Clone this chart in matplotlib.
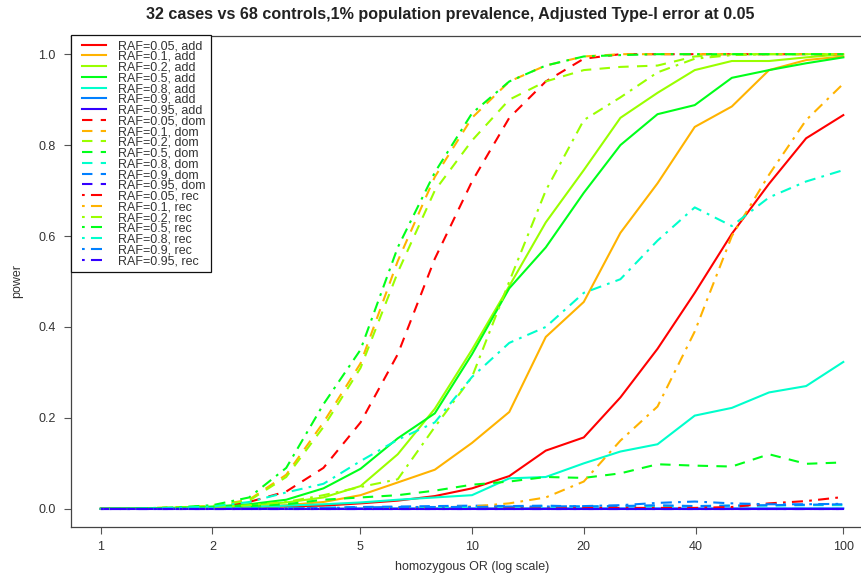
import matplotlib
matplotlib.use("Agg")
import matplotlib.pyplot as plt
from matplotlib.lines import Line2D
from matplotlib.legend_handler import HandlerLine2D

plt.rcParams['font.family'] = ['Liberation Sans', 'DejaVu Sans']

# homozygous odds ratios (0.1-decade grid from 1 to 100)
odds_ratio = [1.0, 1.26, 1.58, 2.0, 2.51, 3.16, 3.98, 5.01, 6.31, 7.94, 10.0,
              12.6, 15.8, 20.0, 25.1, 31.6, 39.8, 50.1, 63.1, 79.4, 100.0]

raf = ["0.05", "0.1", "0.2", "0.5", "0.8", "0.9", "0.95"]
models = ["add", "dom", "rec"]

# power, additive model
add_005 = [0, 0, 0.001, 0.002, 0.003, 0.005, 0.007, 0.012, 0.018, 0.028, 0.045,
           0.072, 0.128, 0.157, 0.245, 0.352, 0.475, 0.605, 0.715, 0.815, 0.866]
add_01 = [0, 0.001, 0.002, 0.003, 0.004, 0.008, 0.015, 0.03, 0.058, 0.086, 0.145,
          0.213, 0.378, 0.455, 0.607, 0.716, 0.84, 0.885, 0.965, 0.987, 0.995]
add_02 = [0, 0.001, 0.002, 0.004, 0.008, 0.014, 0.025, 0.05, 0.12, 0.22, 0.35,
          0.49, 0.63, 0.745, 0.86, 0.915, 0.965, 0.985, 0.985, 0.993, 1.0]
add_05 = [0, 0.001, 0.002, 0.005, 0.01, 0.02, 0.045, 0.088, 0.155, 0.21, 0.34,
          0.485, 0.575, 0.695, 0.80, 0.868, 0.888, 0.948, 0.965, 0.98, 0.993]
add_08 = [0, 0, 0.001, 0.002, 0.004, 0.007, 0.01, 0.014, 0.02, 0.025, 0.03,
          0.067, 0.07, 0.10, 0.126, 0.142, 0.205, 0.222, 0.256, 0.27, 0.323]
add_09 = [0, 0, 0, 0, 0, 0, 0, 0.001, 0.001, 0.001, 0.001,
          0.001, 0.001, 0.001, 0.001, 0.001, 0.001, 0.001, 0.001, 0.001, 0.001]
add_095 = [0] * 21

# power, dominant model
dom_005 = [0, 0.001, 0.002, 0.005, 0.015, 0.038, 0.09, 0.19, 0.34, 0.55, 0.72,
           0.86, 0.94, 0.99, 1.0, 1.0, 1.0, 1.0, 1.0, 1.0, 1.0]
dom_01 = [0, 0.001, 0.003, 0.006, 0.02, 0.075, 0.19, 0.32, 0.545, 0.73, 0.86,
          0.94, 0.975, 0.995, 1.0, 1.0, 1.0, 1.0, 1.0, 1.0, 1.0]
dom_02 = [0, 0.001, 0.003, 0.006, 0.018, 0.07, 0.18, 0.31, 0.52, 0.70, 0.81,
          0.90, 0.94, 0.965, 0.972, 0.975, 0.995, 1.0, 1.0, 1.0, 1.0]
dom_05 = [0, 0.001, 0.002, 0.004, 0.006, 0.01, 0.02, 0.025, 0.03, 0.04, 0.053,
          0.06, 0.07, 0.068, 0.078, 0.098, 0.095, 0.093, 0.12, 0.099, 0.102]
dom_08 = [0, 0, 0, 0.001, 0.001, 0.002, 0.002, 0.003, 0.003, 0.004, 0.004,
          0.005, 0.005, 0.005, 0.006, 0.006, 0.006, 0.007, 0.007, 0.008, 0.008]
dom_09 = [0, 0, 0, 0, 0.001, 0.001, 0.002, 0.004, 0.005, 0.006, 0.007,
          0.006, 0.007, 0.005, 0.006, 0.008, 0.006, 0.007, 0.008, 0.009, 0.01]
dom_095 = [0] * 21

# power, recessive model
rec_005 = [0, 0, 0, 0, 0, 0.001, 0.001, 0.002, 0.002, 0.003, 0.003,
           0.003, 0.003, 0.003, 0.002, 0.002, 0.002, 0.004, 0.012, 0.017, 0.026]
rec_01 = [0, 0, 0, 0, 0, 0.001, 0.001, 0.002, 0.002, 0.003, 0.005,
          0.012, 0.025, 0.06, 0.15, 0.225, 0.39, 0.60, 0.735, 0.855, 0.935]
rec_02 = [0, 0, 0.001, 0.003, 0.008, 0.015, 0.03, 0.048, 0.065, 0.18, 0.29,
          0.50, 0.70, 0.855, 0.905, 0.96, 0.99, 0.998, 1.0, 1.0, 1.0]
rec_05 = [0, 0.001, 0.003, 0.008, 0.025, 0.09, 0.23, 0.35, 0.575, 0.74, 0.87,
          0.94, 0.975, 0.995, 0.998, 1.0, 1.0, 1.0, 1.0, 1.0, 1.0]
rec_08 = [0, 0, 0.002, 0.005, 0.015, 0.036, 0.055, 0.105, 0.152, 0.19, 0.29,
          0.365, 0.40, 0.475, 0.505, 0.59, 0.663, 0.622, 0.685, 0.72, 0.745]
rec_09 = [0, 0, 0, 0, 0, 0.001, 0.002, 0.003, 0.004, 0.004, 0.004,
          0.005, 0.005, 0.006, 0.008, 0.013, 0.016, 0.012, 0.01, 0.01, 0.011]
rec_095 = [0] * 21

series = {
    "add": [add_005, add_01, add_02, add_05, add_08, add_09, add_095],
    "dom": [dom_005, dom_01, dom_02, dom_05, dom_08, dom_09, dom_095],
    "rec": [rec_005, rec_01, rec_02, rec_05, rec_08, rec_09, rec_095],
}

colors = ["#FF0000", "#FFB300", "#99FF00", "#00FF1A", "#00FFCC", "#0080FF", "#3300FF"]
styles = {"add": "-", "dom": (0, (5, 4)), "rec": (0, (1.3, 3, 5.3, 3))}

fig = plt.figure(figsize=(8.62, 5.75), dpi=100)
ax = fig.add_axes([71 / 862, 48 / 575, (873 - 71) / 862, 491 / 575])

for m in models:
    for r, vals, c in zip(raf, series[m], colors):
        ax.plot(odds_ratio, vals, color=c, linestyle=styles[m], linewidth=1.5,
                label=f"RAF={r}, {m}")

ax.set_xscale("log")
ax.set_xlim(10 ** -0.08, 10 ** 2.08)
ax.set_ylim(-0.04, 1.04)
xt = [1, 2, 5, 10, 20, 40, 100]
ax.set_xticks(xt)
ax.set_xticklabels([str(t) for t in xt])
ax.xaxis.set_minor_locator(matplotlib.ticker.NullLocator())
yt = [0.0, 0.2, 0.4, 0.6, 0.8, 1.0]
ax.set_yticks(yt)
ax.set_yticklabels([f"{t:.1f}" for t in yt])
ax.tick_params(axis="both", direction="out", length=5, width=0.8,
               color="#555555", labelsize=9, labelcolor="#333333")
ax.tick_params(axis="x", pad=5)
ax.tick_params(axis="y", pad=6)
for s in ax.spines.values():
    s.set_color("#444444")
    s.set_linewidth(0.9)

ax.set_xlabel("homozygous OR (log scale)", fontsize=9, color="#333333", labelpad=6)
ax.set_ylabel("power", fontsize=9, color="#333333", labelpad=11)
fig.text(450 / 862, 1 - 15 / 575,
         "32 cases vs 68 controls,1% population prevalence, Adjusted Type-I error at 0.05",
         ha="center", va="center", fontsize=11.6, fontweight="bold", color="#222222")

leg = ax.legend(loc="upper left", bbox_to_anchor=(0, 1.002), borderaxespad=0,
                fontsize=9, labelspacing=-0.1, handlelength=2.4,
                handletextpad=0.96, borderpad=0.4, fancybox=False,
                framealpha=1, edgecolor="#111111",
                handler_map={Line2D: HandlerLine2D(xpad=0.48)})
leg.get_frame().set_linewidth(0.9)
for t in leg.get_texts():
    t.set_color("#333333")

fig.savefig("out.png", dpi=100)
